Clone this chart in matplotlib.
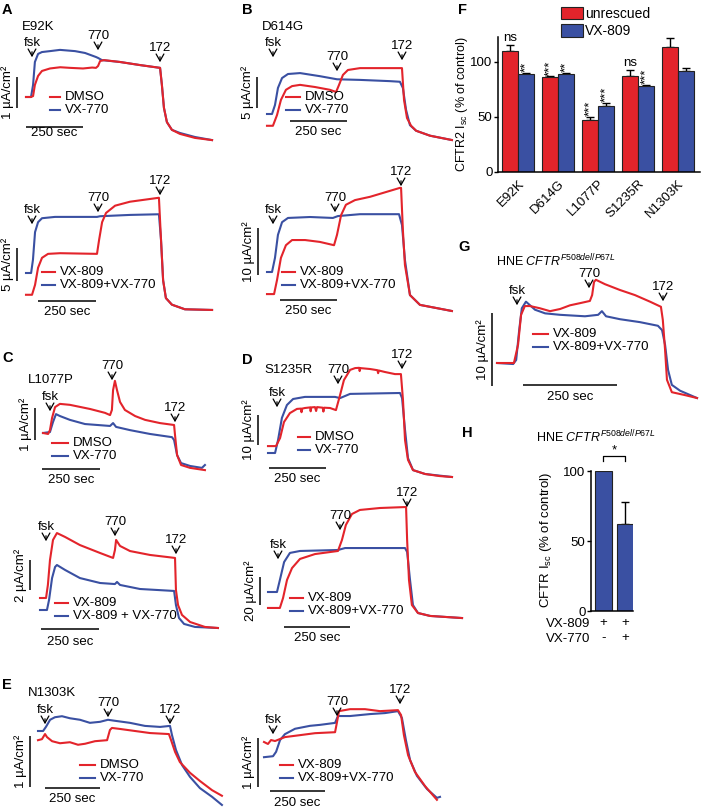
import matplotlib
matplotlib.use('Agg')
import matplotlib.pyplot as plt
from matplotlib.transforms import Affine2D
from matplotlib.patches import FancyArrowPatch, Patch
from matplotlib.lines import Line2D

plt.rcParams['font.family'] = ['Liberation Sans', 'DejaVu Sans']
plt.rcParams['mathtext.fontset'] = 'custom'
plt.rcParams['mathtext.rm'] = 'Liberation Sans'
plt.rcParams['mathtext.it'] = 'Liberation Sans:italic'
plt.rcParams['mathtext.bf'] = 'Liberation Sans:bold'

RED = '#E3242B'
BLUE = '#3A50A2'
FS = 9.5
BAR_SEC = 250

# ---------------- data (time in s, current in uA/cm2) ----------------
# A top: E92K, DMSO vs VX-770
A1_t_dmso = [0, 22, 31, 39, 53, 70, 105, 150, 193, 250, 290, 307, 316, 325, 342, 412, 500, 588, 596, 605, 618, 640, 675, 741, 816]
A1_dmso = [0, 0, 0.03, 0.39, 0.68, 0.84, 0.92, 0.96, 0.94, 0.92, 0.95, 0.94, 1.00, 1.16, 1.19, 1.13, 1.03, 0.94, 0.39, -0.35, -0.81, -1.06, -1.19, -1.32, -1.39]
A1_t_vx770 = [0, 22, 31, 39, 53, 70, 105, 149, 215, 259, 307, 316, 333, 412, 500, 588, 596, 605, 618, 640, 675, 741, 816]
A1_vx770 = [0, 0, 0.39, 1.13, 1.39, 1.45, 1.48, 1.52, 1.48, 1.42, 1.29, 1.26, 1.19, 1.13, 1.03, 0.94, 0.39, -0.35, -0.81, -1.06, -1.16, -1.29, -1.39]
# A bottom: E92K, VX-809 vs VX-809+VX-770
A2_t_809 = [0, 26, 39, 52, 69, 95, 147, 306, 315, 328, 345, 384, 448, 573, 582, 591, 603, 629, 685, 802]
A2_809 = [-3.3, -3.3, -1.8, 0.8, 2.3, 2.9, 3.0, 2.9, 5.0, 7.7, 9.1, 10.2, 10.8, 11.4, 5.0, -1.1, -3.8, -4.8, -5.5, -5.6]
A2_t_combo = [0, 22, 30, 39, 52, 69, 125, 306, 319, 448, 573, 582, 591, 603, 629, 685, 802]
A2_combo = [0, 0, 2.0, 6.2, 7.7, 8.3, 8.5, 8.5, 8.6, 8.8, 8.9, 5.0, -1.1, -3.8, -4.8, -5.5, -5.6]
# B top: D614G
B1_t_vx770 = [0, 22, 35, 48, 66, 92, 145, 232, 307, 408, 539, 583, 596, 610, 627, 654, 715, 811]
B1_vx770 = [0, 0, 1.45, 4.2, 5.8, 6.45, 6.6, 6.1, 5.6, 5.5, 5.3, 5.2, 4.2, 0.65, -1.8, -2.7, -3.5, -4.2]
B1_t_dmso = [0, 26, 44, 61, 83, 110, 145, 211, 276, 303, 316, 333, 355, 408, 583, 592, 601, 614, 632, 654, 715, 811]
B1_dmso = [-1.9, -1.9, -0.16, 2.26, 3.9, 4.5, 4.7, 4.35, 3.9, 3.55, 4.7, 6.3, 7.1, 7.4, 7.4, 7.4, 2.26, -0.65, -1.9, -2.7, -3.5, -4.2]
# B bottom
B2_t_combo = [0, 22, 35, 48, 66, 92, 189, 289, 311, 408, 579, 592, 605, 627, 671, 811]
B2_combo = [0, 0, 3.0, 7.9, 10.6, 11.5, 11.7, 11.5, 11.9, 12.3, 12.3, 10.0, 2.55, -4.9, -7.0, -8.3]
B2_t_809 = [0, 31, 44, 61, 83, 110, 167, 232, 294, 307, 325, 346, 386, 452, 583, 588, 596, 605, 627, 671, 811]
B2_809 = [-4.7, -4.7, -1.7, 3.0, 5.7, 6.8, 6.8, 6.4, 5.7, 7.9, 12.1, 14.3, 15.3, 16.0, 17.9, 17.9, 8.9, 1.5, -4.9, -7.0, -8.3]
# C top: L1077P
C1_t_dmso = [0, 22, 30, 39, 52, 73, 116, 203, 267, 289, 297, 302, 310, 319, 332, 353, 397, 440, 504, 565, 569, 578, 595, 634, 698]
C1_dmso = [0, -0.03, 0.09, 0.47, 0.81, 0.91, 0.88, 0.75, 0.63, 0.56, 0.72, 1.34, 1.63, 1.34, 0.97, 0.72, 0.53, 0.41, 0.31, 0.25, -0.06, -0.69, -1.0, -1.09, -1.16]
C1_t_vx770 = [0, 30, 43, 56, 73, 116, 181, 289, 302, 315, 375, 461, 556, 565, 578, 595, 634, 685, 698]
C1_vx770 = [0, 0.03, 0.34, 0.59, 0.53, 0.41, 0.28, 0.22, 0.31, 0.19, 0.09, -0.03, -0.13, -0.22, -0.69, -0.94, -1.03, -1.09, -1.0]
# C bottom
C2_t_809 = [0, 26, 34, 43, 56, 73, 108, 172, 259, 315, 323, 328, 345, 388, 474, 582, 586, 595, 612, 647, 711, 767]
C2_809 = [0, 0, 0.87, 2.53, 3.87, 4.33, 4.07, 3.53, 3.0, 2.67, 3.2, 3.87, 3.47, 3.13, 2.87, 2.67, 0.53, -0.47, -1.13, -1.6, -1.93, -2.0]
C2_t_combo = [0, 30, 39, 52, 65, 73, 108, 172, 259, 323, 332, 345, 431, 578, 586, 599, 621, 668, 767]
C2_combo = [-0.8, -0.8, -0.13, 1.33, 2.07, 2.2, 1.87, 1.33, 1.0, 0.93, 1.07, 0.87, 0.6, 0.47, -0.47, -1.33, -1.73, -1.93, -2.0]
# D top: S1235R
D1_t_vx770 = [0, 31, 44, 61, 83, 110, 162, 294, 316, 360, 579, 588, 601, 614, 636, 689, 807]
D1_vx770 = [0, 0, 4.3, 11.7, 16, 18, 18.7, 18.7, 18.3, 19.7, 20, 18.3, 7.7, -1.7, -5.7, -7, -8]
D1_t_dmso = [0, 35, 53, 70, 96, 127, 145, 147, 150, 162, 185, 187, 190, 206, 211, 215, 240, 243, 246, 272, 298, 316, 333, 360, 382, 400, 402, 405, 447, 480, 483, 486, 513, 557, 583, 592, 601, 614, 636, 689, 754, 807]
D1_dmso = [2.3, 2.3, 5, 10.3, 13.3, 14.7, 14.8, 13.6, 14.8, 15, 15.2, 13.9, 15.2, 15.3, 14.0, 15.3, 15.1, 13.8, 15.1, 15, 14.3, 19.3, 24.3, 27.7, 28.3, 28.4, 27.3, 28.3, 28, 27.6, 26.6, 27.5, 27, 26.3, 26.3, 17.7, 4.3, -2.3, -5.7, -7, -7.7, -8]
# D bottom
D2_t_combo = [0, 34, 45, 61, 83, 121, 265, 292, 519, 527, 538, 549, 568, 614, 735]
D2_combo = [0, 0, 8.6, 21.4, 27.9, 29.3, 30, 31.4, 31.4, 28.6, 8.6, -9.3, -15, -17.1, -18.6]
D2_t_809 = [0, 45, 57, 72, 91, 121, 178, 265, 280, 295, 318, 348, 424, 523, 527, 534, 545, 568, 614, 735]
D2_809 = [-11.4, -11.4, -4.3, 8.6, 17.1, 23.6, 27.1, 29.3, 37.1, 47.9, 55.7, 58.6, 60, 60.7, 37.1, 8.6, -9.3, -15, -17.1, -18.6]
# E left: N1303K
E1_t_vx770 = [0, 23, 36, 55, 77, 109, 145, 191, 236, 282, 318, 350, 418, 486, 555, 600, 609, 627, 655, 691, 736, 791, 836]
E1_vx770 = [0, 0, 0.08, 0.22, 0.27, 0.29, 0.25, 0.22, 0.16, 0.18, 0.22, 0.2, 0.16, 0.1, 0.08, 0.1, -0.08, -0.37, -0.67, -0.9, -1.12, -1.29, -1.45]
E1_t_dmso = [0, 18, 32, 41, 64, 100, 145, 182, 214, 259, 314, 327, 336, 373, 441, 509, 595, 605, 623, 645, 691, 736, 791, 836]
E1_dmso = [-0.18, -0.16, -0.06, -0.12, -0.2, -0.24, -0.22, -0.27, -0.25, -0.2, -0.18, 0.02, 0.06, 0.04, 0, -0.04, -0.06, -0.18, -0.41, -0.61, -0.82, -0.98, -1.16, -1.27]
# E right
E2_t_809 = [0, 18, 32, 50, 95, 164, 232, 323, 332, 341, 391, 459, 527, 609, 623, 636, 655, 686, 732, 786]
E2_809 = [0, -0.04, 0.04, 0.02, 0.1, 0.14, 0.18, 0.2, 0.41, 0.63, 0.67, 0.67, 0.63, 0.65, 0.55, 0.14, -0.27, -0.61, -0.9, -1.18]
E2_t_combo = [0, 41, 55, 73, 95, 141, 209, 255, 323, 336, 391, 482, 550, 609, 627, 645, 664, 695, 741, 786, 800]
E2_combo = [-0.31, -0.29, -0.2, 0.04, 0.16, 0.27, 0.33, 0.35, 0.39, 0.53, 0.53, 0.57, 0.59, 0.63, 0.49, 0.04, -0.37, -0.69, -0.96, -1.14, -1.12]
# G: HNE F508del/P67L
G_t_combo = [0, 43, 51, 59, 66, 77, 88, 101, 128, 168, 234, 269, 279, 290, 327, 380, 428, 439, 447, 455, 465, 487, 532]
G_combo = [0, -0.14, 0.41, 4.5, 7.5, 8.4, 7.9, 7.3, 6.8, 6.6, 6.4, 6.6, 7.1, 6.4, 6.0, 5.6, 5.1, 4.5, 2.5, -0.96, -3.0, -3.8, -4.8]
G_t_809 = [0, 45, 56, 64, 74, 88, 114, 141, 168, 194, 221, 247, 253, 258, 263, 287, 327, 367, 407, 436, 441, 447, 452, 465, 500, 532]
G_809 = [0, 0, 2.5, 6.6, 7.8, 7.8, 7.5, 7.1, 7.4, 7.9, 8.2, 8.5, 9.3, 11.1, 11.4, 10.8, 10.0, 9.3, 8.4, 7.7, 5.9, 1.8, -2.3, -4.0, -4.4, -4.8]

# F bar chart
F_mutants = ['E92K', 'D614G', 'L1077P', 'S1235R', 'N1303K']
F_unrescued = [110, 86, 47, 87.5, 113.5]
F_unrescued_err = [5.5, 1.2, 3, 5, 8.5]
F_vx809 = [89, 89, 60, 78.5, 92]
F_vx809_err = [1, 1, 3, 1, 2.5]
F_sig_unrescued = ['ns', '***', '***', 'ns', '']
F_sig_vx809 = ['**', '**', '***', '***', '']
F_yticks = [0, 50, 100]

# H bar chart
H_values = [100, 62]
H_err = [0, 16]
H_yticks = [0, 50, 100]
H_vx809 = ['+', '+']
H_vx770 = ['-', '+']

# ---------------- figure ----------------
W, H = 702, 809
fig = plt.figure(figsize=(W / 100, H / 100), dpi=100)
PX = Affine2D().scale(1 / W, -1 / H).translate(0, 1) + fig.transFigure


def txt(x, y, s, **kw):
    kw.setdefault('fontsize', FS)
    kw.setdefault('ha', 'center')
    kw.setdefault('va', 'center')
    fig.text(x, y, s, transform=PX, **kw)


def arrow(x, y_top, y_bot, label):
    fig.add_artist(FancyArrowPatch((x, y_top), (x, y_bot), transform=PX,
                                   arrowstyle='->,head_length=0.5,head_width=0.28',
                                   mutation_scale=10, lw=0.9, color='k'))
    txt(x, y_top - 6, label)


def trace_ax(x0, y0, sx, sy):
    ax = fig.add_axes([0, 0, 1, 1])
    ax.set_xlim(-x0 / sx, (W - x0) / sx)
    ax.set_ylim((y0 - H) / sy, y0 / sy)
    ax.axis('off')
    return ax


def panel(geom, red, blue, labels, events, hbar, vbar, vunit, leg):
    x0, y0, sx, sy = geom
    ax = trace_ax(x0, y0, sx, sy)
    ax.plot(blue[0], blue[1], color=BLUE, lw=1.5, clip_on=False)
    ax.plot(red[0], red[1], color=RED, lw=1.5, clip_on=False)
    for (ex, ytop, lab) in events:
        arrow(ex, ytop, ytop + 11, lab)
    # time scale bar
    hx, hy, hly = hbar
    ts = (hx - x0) / sx
    hv = (y0 - hy) / sy
    ax.plot([ts, ts + BAR_SEC], [hv, hv], color='k', lw=1.1, solid_capstyle='butt', clip_on=False)
    txt(hx + BAR_SEC * sx / 2, hly, '250 sec')
    # current scale bar
    vx, vy = vbar
    tv = (vx - x0) / sx
    vb = (y0 - vy) / sy
    ax.plot([tv, tv], [vb, vb + vunit], color='k', lw=1.1, solid_capstyle='butt', clip_on=False)
    txt(vx - 9, vy - vunit * sy / 2, '%g µA/cm²' % vunit, rotation=90)
    # legend
    lx, ly, lw_, l1, l2 = leg
    fig.add_artist(Line2D([lx, lx + lw_], [ly, ly], transform=PX, color=RED, lw=1.5))
    fig.add_artist(Line2D([lx, lx + lw_], [ly + 13, ly + 13], transform=PX, color=BLUE, lw=1.5))
    txt(lx + lw_ + 5, ly, l1, ha='left')
    txt(lx + lw_ + 5, ly + 13, l2, ha='left')
    for (x, y, s, kw) in labels:
        txt(x, y, s, **kw)


BOLD = dict(fontsize=10.5, fontweight='bold', ha='left')
LEFT = dict(ha='left')

# A top
panel((26, 97, 0.228, 31), (A1_t_dmso, A1_dmso), (A1_t_vx770, A1_vx770),
      [(2, 10, 'A', BOLD), (22, 27, 'E92K', LEFT)],
      [(32, 49, 'fsk'), (98, 42, '770'), (160, 54, '172')],
      (26, 127, 133), (17, 108), 1, (50, 97, 10, 'DMSO', 'VX-770'))
# A bottom
panel((26, 273, 0.232, 6.6), (A2_t_809, A2_809), (A2_t_combo, A2_combo),
      [],
      [(32, 216, 'fsk'), (98, 204, '770'), (160, 187, '172')],
      (38, 301, 312), (17, 281), 5, (42, 272, 13, 'VX-809', 'VX-809+VX-770'))
# B top
panel((267, 114, 0.228, 6.2), (B1_t_dmso, B1_dmso), (B1_t_vx770, B1_vx770),
      [(242, 10, 'B', BOLD), (262, 27, 'D614G', LEFT)],
      [(273, 49, 'fsk'), (337, 63, '770'), (402, 52, '172')],
      (290, 121, 132), (257, 108), 5, (286, 97, 14, 'DMSO', 'VX-770'))
# B bottom
panel((267, 272, 0.228, 4.7), (B2_t_809, B2_809), (B2_t_combo, B2_combo),
      [],
      [(273, 216, 'fsk'), (335, 204, '770'), (401, 178, '172')],
      (280, 300, 311), (258, 275), 10, (282, 272, 13, 'VX-809', 'VX-809+VX-770'))
# C top
panel((43, 433, 0.232, 32), (C1_t_dmso, C1_dmso), (C1_t_vx770, C1_vx770),
      [(2, 358, 'C', BOLD), (28, 380, 'L1077P', LEFT)],
      [(50, 403, 'fsk'), (112, 372, '770'), (175, 414, '172')],
      (42, 469, 480), (35, 440), 1, (52, 443, 16, 'DMSO', 'VX-770'))
# C bottom
panel((40, 598, 0.232, 15), (C2_t_809, C2_809), (C2_t_combo, C2_combo),
      [],
      [(46, 533, 'fsk'), (115, 528, '770'), (176, 546, '172')],
      (41, 629, 642), (30, 590), 2, (55, 603, 13, 'VX-809', 'VX-809 + VX-770'))
# D top
panel((268, 453, 0.228, 3.0), (D1_t_dmso, D1_dmso), (D1_t_vx770, D1_vx770),
      [(242, 360, 'D', BOLD), (264, 370, 'S1235R', LEFT)],
      [(277, 399, 'fsk'), (338, 376, '770'), (402, 361, '172')],
      (269, 468, 479), (258, 445), 10, (298, 437, 12, 'DMSO', 'VX-770'))
# D bottom
panel((268, 592, 0.264, 1.4), (D2_t_809, D2_809), (D2_t_combo, D2_combo),
      [],
      [(278, 551, 'fsk'), (340, 522, '770'), (407, 499, '172')],
      (284, 627, 638), (260, 605), 20, (290, 598, 13, 'VX-809', 'VX-809+VX-770'))
# E left
panel((38, 731, 0.22, 51), (E1_t_dmso, E1_dmso), (E1_t_vx770, E1_vx770),
      [(2, 685, 'E', BOLD), (28, 693, 'N1303K', LEFT)],
      [(45, 716, 'fsk'), (108, 709, '770'), (170, 716, '172')],
      (45, 788, 799), (30, 787), 1, (80, 765, 15, 'DMSO', 'VX-770'))
# E right
panel((264, 742, 0.22, 49), (E2_t_809, E2_809), (E2_t_combo, E2_combo),
      [],
      [(273, 726, 'fsk'), (337, 708, '770'), (400, 696, '172')],
      (270, 791, 803), (258, 787), 1, (280, 765, 13, 'VX-809', 'VX-809+VX-770'))
# G
panel((497, 363, 0.376, 7.3), (G_t_809, G_809), (G_t_combo, G_combo),
      [(458, 247, 'G', BOLD),
       (496, 261, r'HNE $\mathit{CFTR}^{\mathit{F508del/P67L}}$', dict(ha='left', fontsize=9))],
      [(517, 297, 'fsk'), (589, 280, '770'), (663, 293, '172')],
      (523, 385, 397), (492, 386), 10, (533, 334, 15, 'VX-809', 'VX-809+VX-770'))

# ---------------- F: bar chart ----------------
def px_axes(l, t, r, b):
    return fig.add_axes([l / W, 1 - b / H, (r - l) / W, (b - t) / H])


axF = px_axes(498, 37, 700, 172)
axF.patch.set_visible(False)
xs = list(range(len(F_mutants)))
bw = 0.41
off = 0.206
xr = [x - off for x in xs]
xb = [x + off for x in xs]
axF.bar(xr, F_unrescued, width=bw, color=RED, edgecolor='#222222', lw=0.8, label='unrescued', zorder=2)
axF.bar(xb, F_vx809, width=bw, color=BLUE, edgecolor='#222222', lw=0.8, label='VX-809', zorder=2)
axF.errorbar(xr, F_unrescued, yerr=[[0] * 5, F_unrescued_err], fmt='none', ecolor='k', elinewidth=1, capsize=3, capthick=1, zorder=1)
axF.errorbar(xb, F_vx809, yerr=[[0] * 5, F_vx809_err], fmt='none', ecolor='k', elinewidth=1, capsize=3, capthick=1, zorder=1)
for xlist, vals, errs, sigs in ((xr, F_unrescued, F_unrescued_err, F_sig_unrescued),
                                (xb, F_vx809, F_vx809_err, F_sig_vx809)):
    for x, v, e, s in zip(xlist, vals, errs, sigs):
        if s == 'ns':
            axF.text(x, v + e + 1.0, s, ha='center', va='bottom', fontsize=FS)
        elif s:
            axF.text(x, v + e + 0.5, s, ha='center', va='bottom', fontsize=FS, rotation=90)
axF.set_xlim(-0.5, 4.55)
axF.set_ylim(0, 122.7)
axF.set_yticks(F_yticks)
axF.set_xticks(xs)
axF.set_xticklabels(F_mutants, rotation=45, ha='right', rotation_mode='anchor', fontsize=FS)
axF.tick_params(axis='x', length=0, pad=4)
axF.tick_params(axis='y', length=3, width=1, labelsize=FS, pad=1)
for sp in ['top', 'right']:
    axF.spines[sp].set_visible(False)
for sp in ['left', 'bottom']:
    axF.spines[sp].set_linewidth(1.1)
axF.set_ylabel(r'CFTR2 I$_{\mathrm{sc}}$ (% of control)', fontsize=9)
axF.yaxis.set_label_coords(470, 104, transform=PX)
axF.legend(handles=[Patch(facecolor=RED, edgecolor='#222222', lw=0.8, label='unrescued'),
                    Patch(facecolor=BLUE, edgecolor='#222222', lw=0.8, label='VX-809')],
           loc='upper left', bbox_to_anchor=(561, 7), bbox_transform=PX, frameon=False,
           fontsize=10, handlelength=1.6, handleheight=1.0, handletextpad=0.15,
           labelspacing=0.25, borderpad=0, borderaxespad=0)
txt(458, 10, 'F', **BOLD)

# ---------------- H: bar chart ----------------
axH = px_axes(591, 471, 633, 611)
axH.patch.set_visible(False)
hx = [0, 1]
axH.bar(hx, H_values, width=0.79, color=BLUE, edgecolor='#222222', lw=0.8, zorder=2)
axH.errorbar(hx, H_values, yerr=[[0, 0], H_err], fmt='none', ecolor='k', elinewidth=1, capsize=3, capthick=1, zorder=1)
axH.set_xlim(-0.58, 1.37)
axH.set_ylim(0, 100)
axH.set_yticks(H_yticks)
axH.set_xticks([])
axH.tick_params(axis='y', length=3, width=1, labelsize=FS, pad=1)
for sp in ['top', 'right']:
    axH.spines[sp].set_visible(False)
for sp in ['left', 'bottom']:
    axH.spines[sp].set_linewidth(1.1)
axH.plot([0, 0, 1, 1], [107, 110.7, 110.7, 107], color='k', lw=0.9, clip_on=False)
axH.text(0.5, 110.5, '*', ha='center', va='bottom', fontsize=FS)
axH.set_ylabel(r'CFTR I$_{\mathrm{sc}}$ (% of control)', fontsize=FS)
axH.yaxis.set_label_coords(554, 540, transform=PX)
txt(590, 624, 'VX-809', ha='right')
txt(590, 639, 'VX-770', ha='right')
for x, a, b in zip(hx, H_vx809, H_vx770):
    xp = 603.5 + 21.5 * x
    txt(xp, 623, a)
    txt(xp, 638, b)
txt(462, 433, 'H', **BOLD)
txt(596, 437, r'HNE $\mathit{CFTR}^{\mathit{F508del/P67L}}$', fontsize=9)

fig.savefig('out.png', dpi=100)
